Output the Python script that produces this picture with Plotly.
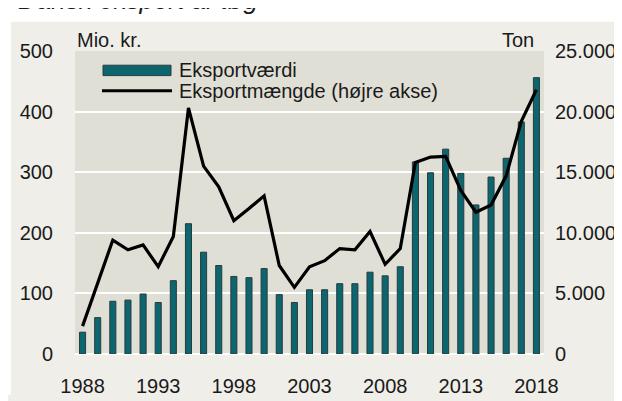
import plotly.graph_objects as go

years = list(range(1988, 2019))
export_value = [36, 60, 87, 89, 99, 85, 121, 215, 168, 146, 128, 126, 141, 98, 85,
                106, 106, 116, 116, 135, 129, 144, 317, 299, 338, 298, 246, 292, 323, 383, 456]
export_volume = [2300, 5800, 9400, 8600, 9000, 7200, 9700, 20300, 15500, 13800, 11000, 12000, 13050,
                 7300, 5500, 7200, 7700, 8700, 8600, 10100, 7400, 8700, 15800, 16250, 16300,
                 13500, 11700, 12300, 14700, 19200, 21800]
left_ticks = [0, 100, 200, 300, 400, 500]
right_ticks = [0, 5000, 10000, 15000, 20000, 25000]
right_labels = ["0", "5.000", "10.000", "15.000", "20.000", "25.000"]
x_ticks = [1988, 1993, 1998, 2003, 2008, 2013, 2018]

title = "Dansk eksport af tøg"
name_value = "Eksportværdi"
name_volume = "Eksportmængde (højre akse)"

W, H = 622, 401
L, R, T, B = 67, 86, 43, 38
PW, PH = W - L - R, H - T - B

def px(xp):
    return (xp - L) / PW

def py(yp):
    return (H - B - yp) / PH

FONT = "Liberation Sans, Arial, sans-serif"
TXT = "#1a1a1a"
TEAL = "#0b6670"
EDGE = "#2a3a3c"
PAPER = "#efeee8"
PLOT = "#e0dfd5"
FS = 20

fig = go.Figure()
fig.add_trace(go.Bar(x=years, y=export_value, name=name_value, width=0.4,
                     marker=dict(color=TEAL, line=dict(color=EDGE, width=1)),
                     showlegend=False))
fig.add_trace(go.Scatter(x=years, y=export_volume, name=name_volume, yaxis="y2",
                         mode="lines", line=dict(color="black", width=3.2),
                         showlegend=False))

shapes = [
    dict(type="rect", xref="paper", yref="paper", x0=px(-5), x1=px(W + 5),
         y0=py(12), y1=py(-5), fillcolor="white", line=dict(width=0), layer="below"),
    dict(type="rect", xref="paper", yref="paper", x0=px(-5), x1=px(3),
         y0=py(H + 5), y1=py(-5), fillcolor="white", line=dict(width=0), layer="below"),
    dict(type="rect", xref="paper", yref="paper", x0=px(95), x1=px(163),
         y0=py(69), y1=py(58), fillcolor=TEAL, line=dict(color=EDGE, width=1)),
    dict(type="line", xref="paper", yref="paper", x0=px(94), x1=px(164),
         y0=py(85), y1=py(85), line=dict(color="black", width=3.2)),
]

annotations = [
    dict(text=title, xref="paper", yref="paper", x=px(8), y=py(-11), xanchor="left",
         yanchor="middle", showarrow=False,
         font=dict(family=FONT, size=26, color=TXT, style="italic")),
    dict(text="Mio. kr.", xref="paper", yref="paper", x=px(67), y=py(31), xanchor="left",
         yanchor="middle", showarrow=False, font=dict(family=FONT, size=FS, color=TXT)),
    dict(text="Ton", xref="paper", yref="paper", x=px(528), y=py(31), xanchor="right",
         yanchor="middle", showarrow=False, font=dict(family=FONT, size=FS, color=TXT)),
    dict(text=name_value, xref="paper", yref="paper", x=px(169), y=py(63), xanchor="left",
         yanchor="middle", showarrow=False, font=dict(family=FONT, size=FS, color=TXT)),
    dict(text=name_volume, xref="paper", yref="paper", x=px(169), y=py(85), xanchor="left",
         yanchor="middle", showarrow=False, font=dict(family=FONT, size=FS, color=TXT)),
]

fig.update_layout(
    width=W, height=H,
    margin=dict(l=L, r=R, t=T, b=B, pad=0),
    paper_bgcolor=PAPER, plot_bgcolor=PLOT,
    font=dict(family=FONT, size=FS, color=TXT),
    bargap=0.6,
    shapes=shapes, annotations=annotations,
    xaxis=dict(range=[1987.5, 2018.5], tickvals=x_ticks, showgrid=False, zeroline=False,
               ticks="outside", ticklen=14, tickcolor="rgba(0,0,0,0)", showline=False),
    yaxis=dict(range=[0, 500], tickvals=left_ticks, showgrid=True, gridcolor="white",
               gridwidth=2, zeroline=True, zerolinecolor="white", zerolinewidth=2,
               ticks="outside", ticklen=17, tickcolor="rgba(0,0,0,0)"),
    yaxis2=dict(range=[0, 25000], tickvals=right_ticks, ticktext=right_labels,
                overlaying="y", side="right", showgrid=False, zeroline=False,
                ticks="outside", ticklen=6, tickcolor="rgba(0,0,0,0)"),
)

fig.write_html("out.html")
